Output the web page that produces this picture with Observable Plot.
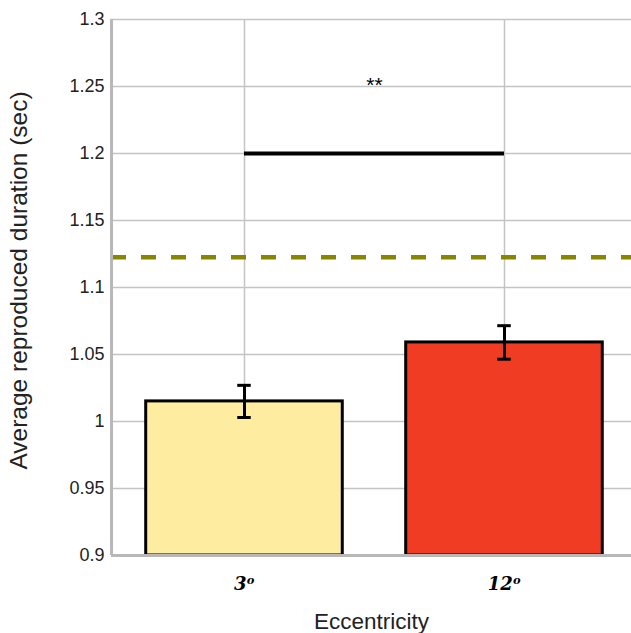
<!DOCTYPE html>
<html>
<head>
<meta charset="utf-8">
<script src="https://cdn.jsdelivr.net/npm/d3@7"></script>
<script src="https://cdn.jsdelivr.net/npm/@observablehq/plot@0.6"></script>
<style>
  html, body { margin: 0; padding: 0; background: #fff; }
  svg { display: block; }
</style>
</head>
<body>
<div id="chart"></div>
<script>
// Eccentricity conditions and their mean reproduced durations
const conditions = ["3ᵒ", "12ᵒ"];
const positions = [1, 2];
const means = [1.015, 1.059];
const errors = [0.012, 0.0125];
const barColors = ["#feeca0", "#f03c23"];

// Physical (reference) duration shown as dashed line
const referenceDuration = [1.1225];

// Significance bracket between the two conditions
const sigLevel = [1.2];
const sigLabel = ["**"];
const sigLabelY = [1.25];

const yTicks = [0.9, 0.95, 1.0, 1.05, 1.1, 1.15, 1.2, 1.25, 1.3];

const yTitle = ["Average reproduced duration (sec)"];
const xTitle = ["Eccentricity"];

const data = conditions.map((c, i) => ({
  label: c, pos: positions[i], mean: means[i], err: errors[i], color: barColors[i]
}));

const xDomain = [0.4885, 2.4885];
const halfBar = 0.378;
const halfCap = 0.026;

const chart = Plot.plot({
  width: 631,
  height: 633,
  marginLeft: 111,
  marginRight: 0,
  marginTop: 19,
  marginBottom: 78,
  style: { fontFamily: "Liberation Sans, Arial, sans-serif", fontSize: "18px", color: "#222" },
  x: { domain: xDomain },
  y: { domain: [0.9, 1.3] },
  marks: [
    // grid
    Plot.ruleY(yTicks, { stroke: "#c4c4c4", strokeWidth: 1.5 }),
    Plot.ruleX(positions, { stroke: "#c4c4c4", strokeWidth: 1.5 }),
    // bars
    Plot.rectY(data, {
      x1: d => d.pos - halfBar, x2: d => d.pos + halfBar,
      y1: 0.9, y2: "mean", fill: "color", stroke: "black", strokeWidth: 3
    }),
    // error bars
    Plot.ruleX(data, { x: "pos", y1: d => d.mean - d.err, y2: d => d.mean + d.err, stroke: "black", strokeWidth: 3 }),
    Plot.ruleY(data, { y: d => d.mean + d.err, x1: d => d.pos - halfCap, x2: d => d.pos + halfCap, stroke: "black", strokeWidth: 3 }),
    Plot.ruleY(data, { y: d => d.mean - d.err, x1: d => d.pos - halfCap, x2: d => d.pos + halfCap, stroke: "black", strokeWidth: 3 }),
    // reference duration
    Plot.ruleY(referenceDuration, { stroke: "#868600", strokeWidth: 4.5, strokeDasharray: "15,15" }),
    // significance bracket
    Plot.ruleY(sigLevel, { x1: positions[0], x2: positions[1], stroke: "black", strokeWidth: 4 }),
    Plot.text(sigLabel, { x: d3.mean(positions), y: sigLabelY, text: d => d, lineAnchor: "bottom", dy: 5, fontSize: 21, fill: "black" }),
    // axis lines
    Plot.ruleY([0.9], { stroke: "#b8b8b8", strokeWidth: 3 }),
    Plot.ruleX([xDomain[0]], { y1: 0.9, y2: 1.3, stroke: "#b8b8b8", strokeWidth: 3 }),
    // axes
    Plot.axisY(yTicks, {
      tickSize: 0, tickPadding: 7,
      tickFormat: d => String(+d.toFixed(2)),
      label: null, fontSize: 18
    }),
    Plot.axisX(positions, {
      tickSize: 0, tickPadding: 22,
      tickFormat: d => conditions[positions.indexOf(d)],
      fontFamily: "DejaVu Serif, serif", fontWeight: "bold", fontStyle: "italic", fontSize: 18, fill: "black",
      label: null
    }),
    // axis titles
    Plot.text(yTitle, { frameAnchor: "left", textAnchor: "middle", lineAnchor: "middle", rotate: -90, dx: -92.5, dy: -7, text: d => d, fontSize: 24.5, fill: "#222" }),
    Plot.text(xTitle, { frameAnchor: "bottom", textAnchor: "middle", lineAnchor: "middle", dy: 66, text: d => d, fontSize: 22.5, fill: "#222" })
  ]
});

document.getElementById("chart").appendChild(chart);
</script>
</body>
</html>
